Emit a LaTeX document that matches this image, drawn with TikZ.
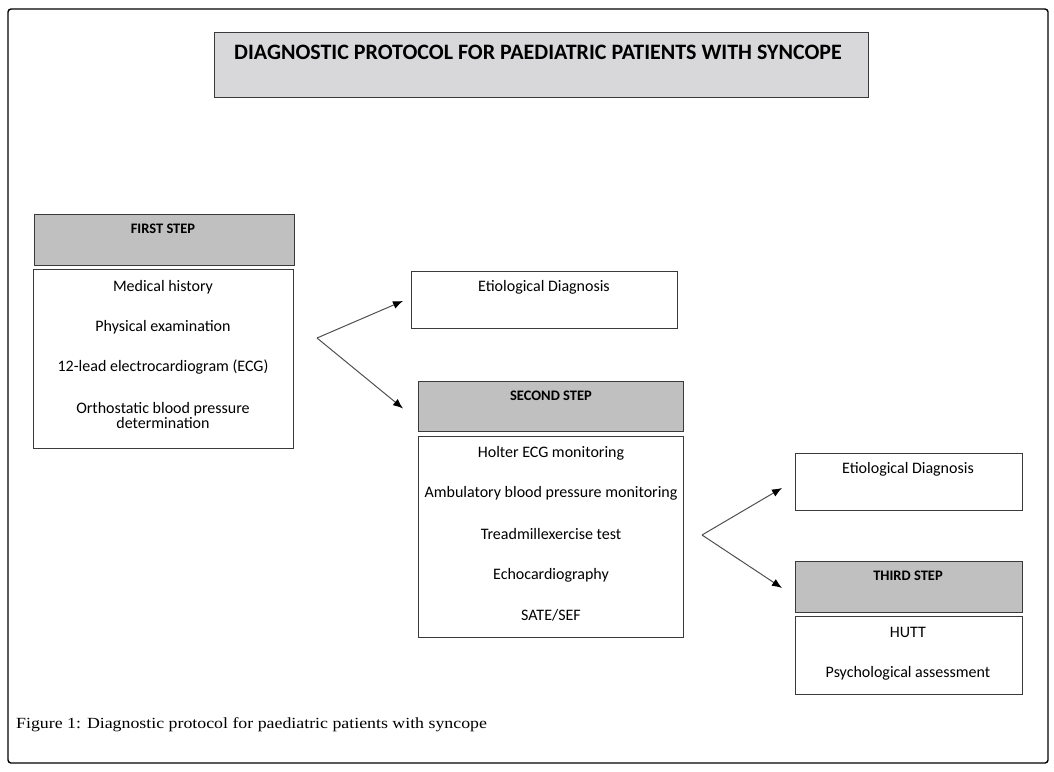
\documentclass[tikz,border=0pt]{standalone}
\usepackage{fontspec}
\setmainfont{Carlito}
\newfontfamily\capfont[FakeStretch=1.15]{Liberation Serif}
\usetikzlibrary{arrows.meta}
\definecolor{titlegray}{HTML}{D8D8DA}
\definecolor{headgray}{HTML}{C0C0C0}
\definecolor{edgegray}{HTML}{3A3A3A}
\definecolor{arrgray}{HTML}{505050}
\tikzset{
  box/.style={draw=edgegray, line width=0.9pt, inner sep=0pt, anchor=north west},
  headbox/.style={box, fill=headgray},
  txt/.style={inner sep=0pt, anchor=base, font=\fontsize{16}{15}\selectfont, align=center},
  headtxt/.style={inner sep=0pt, anchor=base, font=\bfseries\fontsize{14.5}{16}\selectfont},
  arr/.style={draw=arrgray, line width=1pt, -{Latex[length=10pt,width=8pt,color=black]}},
  frame/.style={draw=black, line width=1.4pt, rounded corners=3pt}
}
\begin{document}
\begin{tikzpicture}[x=1pt,y=-1pt]
\useasboundingbox (0,0) rectangle (1054,771);
\draw[frame] (8,9) rectangle (1048,763);

% title
\node[box, fill=titlegray, minimum width=654pt, minimum height=65pt] (title) at (214,32) {};
\node[inner sep=0pt, anchor=base west, font=\bfseries\fontsize{22}{26}\selectfont] (titletxt) at (234,59) {DIAGNOSTIC PROTOCOL FOR PAEDIATRIC PATIENTS WITH SYNCOPE};

% first step
\node[headbox, minimum width=260pt, minimum height=51pt] (h1) at (34,214) {};
\node[headtxt] (h1t) at (163,233) {FIRST STEP};
\node[box, minimum width=260pt, minimum height=179pt] (b1) at (33,269) {};
\node[txt] (b1a) at (163,291) {Medical history};
\node[txt] (b1b) at (163,331) {Physical examination};
\node[txt] (b1c) at (163,371) {12-lead electrocardiogram (ECG)};
\node[txt] (b1d) at (163,413) {Orthostatic blood pressure};
\node[txt] (b1e) at (163,428) {determination};

% first etiological diagnosis
\node[box, minimum width=266pt, minimum height=57pt] (e1) at (411,271) {};
\node[txt] (e1t) at (544,291) {Etiological Diagnosis};

% second step
\node[headbox, minimum width=265pt, minimum height=50pt] (h2) at (418,381) {};
\node[headtxt] (h2t) at (551,400) {SECOND STEP};
\node[box, minimum width=265pt, minimum height=201pt] (b2) at (418,436) {};
\node[txt] (b2a) at (551,457) {Holter ECG monitoring};
\node[txt] (b2b) at (551,497) {Ambulatory blood pressure monitoring};
\node[txt] (b2c) at (551,539) {Treadmillexercise test};
\node[txt] (b2d) at (551,579) {Echocardiography};
\node[txt] (b2e) at (551,620) {SATE/SEF};

% second etiological diagnosis
\node[box, minimum width=227pt, minimum height=57pt] (e2) at (795,453) {};
\node[txt] (e2t) at (908,473) {Etiological Diagnosis};

% third step
\node[headbox, minimum width=227pt, minimum height=51pt] (h3) at (795,561) {};
\node[headtxt] (h3t) at (908,580) {THIRD STEP};
\node[box, minimum width=227pt, minimum height=78pt] (b3) at (795,616) {};
\node[txt] (b3a) at (908,637) {HUTT};
\node[txt] (b3b) at (908,677) {Psychological assessment};

% connectors
\coordinate (f1) at (317,338);
\coordinate (f2) at (702,535);
\draw[arr] (f1) -- ([xshift=-8pt,yshift=-1pt]e1.west);
\draw[arr] (f1) -- ([xshift=-15pt,yshift=-2pt]h2.west);
\draw[arr] (f2) -- ([xshift=-13pt,yshift=-6pt]e2.west);
\draw[arr] (f2) -- ([xshift=-13pt,yshift=-1pt]h3.west);

% caption
\node[inner sep=0pt, anchor=base west, font=\capfont\fontsize{15.5}{18}\selectfont] (cap) at (16,728) {Figure 1: Diagnostic protocol for paediatric patients with syncope};
\end{tikzpicture}
\end{document}
